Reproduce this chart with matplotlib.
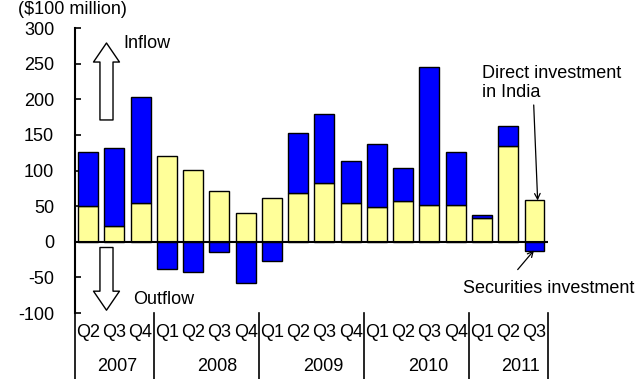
import matplotlib
matplotlib.use("Agg")
import matplotlib.pyplot as plt
import numpy as np

plt.rcParams['font.family'] = ['Liberation Sans', 'DejaVu Sans']
plt.rcParams['axes.unicode_minus'] = False

# Quarterly capital inflows to India ($100 million)
quarters = ["Q2", "Q3", "Q4",
            "Q1", "Q2", "Q3", "Q4",
            "Q1", "Q2", "Q3", "Q4",
            "Q1", "Q2", "Q3", "Q4",
            "Q1", "Q2", "Q3"]
years = ["2007", "2008", "2009", "2010", "2011"]
quarters_per_year = [3, 4, 4, 4, 3]
direct_investment = [50, 22, 54, 120, 101, 71, 40, 61, 69, 82, 55, 49, 57, 52, 51, 34, 135, 58]
securities_investment = [76, 110, 149, -38, -42, -14, -58, -27, 83, 98, 59, 88, 47, 194, 75, 3, 27, -13]
y_ticks = [-100, -50, 0, 50, 100, 150, 200, 250, 300]

BLUE = "#0000FF"
YELLOW = "#FFFF99"
FS = 13

fig = plt.figure(figsize=(6.37, 3.79), dpi=100)
ax = fig.add_axes([0.1177, 0.174, 0.742, 0.752])

x = np.arange(len(quarters))
direct = np.array(direct_investment, dtype=float)
sec = np.array(securities_investment, dtype=float)
sec_bottom = np.where(sec >= 0, direct, 0.0)

ax.bar(x, direct, width=0.76, color=YELLOW, edgecolor="black", linewidth=1, zorder=2)
ax.bar(x, sec, bottom=sec_bottom, width=0.76, color=BLUE, edgecolor="black", linewidth=1, zorder=2)

ax.set_xlim(-0.5, len(quarters) - 0.5)
ax.set_ylim(-100, 300)
ax.axhline(0, color="black", linewidth=1.5, zorder=3)

for s in ["top", "right", "bottom"]:
    ax.spines[s].set_visible(False)
ax.spines["left"].set_linewidth(1.5)
ax.set_xticks([])
ax.set_yticks(y_ticks)
ax.tick_params(axis="y", direction="in", length=4, width=1.2, pad=15, labelsize=FS)

# quarter labels and year groups beneath the plot
for xi, q in zip(x, quarters):
    ax.text(xi, -127, q, ha="center", va="center", fontsize=FS, clip_on=False)

bounds = np.concatenate([[0], np.cumsum(quarters_per_year)]) - 0.5
year_label_x = [1.1, 4.92, 8.97, 12.94, 16.45]
for b in bounds:
    ax.plot([b, b], [-100, -200], color="black", linewidth=1.2, clip_on=False)
for yx, yr in zip(year_label_x, years):
    ax.text(yx, -175, yr, ha="center", va="center", fontsize=FS, clip_on=False)

# inflow / outflow arrows
hollow = dict(arrowstyle="simple,head_width=18.7,head_length=13.7,tail_width=9.4",
              mutation_scale=1, fc="white", ec="black", lw=1, shrinkA=0, shrinkB=0)
ax.annotate("", xy=(0.7, 279), xytext=(0.7, 171), arrowprops=hollow, zorder=4)
ax.annotate("", xy=(0.7, -96), xytext=(0.7, -8), arrowprops=hollow, zorder=4)
ax.text(1.34, 279, "Inflow", ha="left", va="center", fontsize=FS)
ax.text(1.72, -81, "Outflow", ha="left", va="center", fontsize=FS)

# series call-outs
line_arrow = dict(arrowstyle="->", color="black", lw=0.9, shrinkA=0, shrinkB=0)
ax.annotate("", xy=(17.12, 58), xytext=(16.97, 192), arrowprops=line_arrow, zorder=4)
ax.text(15.0, 223, "Direct investment\nin India", ha="left", va="center",
        fontsize=FS, linespacing=1.15)
ax.annotate("", xy=(16.98, -12), xytext=(16.36, -39), arrowprops=line_arrow,
            zorder=4, annotation_clip=False)
ax.text(14.27, -66, "Securities investment", ha="left", va="center",
        fontsize=FS, clip_on=False)

fig.text(18 / 637, 1 - 9 / 379, "(\\$100 million)", ha="left", va="center", fontsize=FS)

fig.savefig("out.png", dpi=100)
